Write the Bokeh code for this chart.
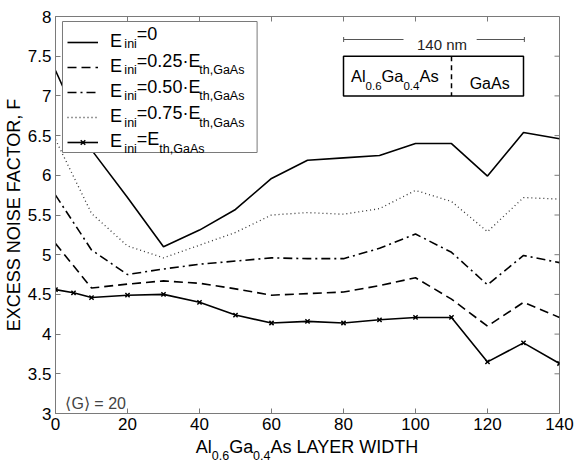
from bokeh.plotting import figure
from bokeh.layouts import column
from bokeh.models import (Range1d, FixedTicker, Legend, LegendItem,
                          Label, BoxAnnotation, Arrow, TeeHead)
from bokeh.core.properties import value
from bokeh.embed import file_html
from bokeh.resources import INLINE

# Al0.6Ga0.4As layer width (nm) and excess noise factor F for each injection energy
width_nm = [0, 10, 20, 30, 40, 50, 60, 70, 80, 90, 100, 110, 120, 130, 140]
F_e000 = [7.32, 6.32, 5.72, 5.10, 5.31, 5.57, 5.96, 6.19, 6.22, 6.25, 6.40, 6.40, 5.99, 6.54, 6.46]
F_e025 = [5.14, 4.58, 4.63, 4.67, 4.64, 4.57, 4.49, 4.51, 4.53, 4.61, 4.71, 4.44, 4.10, 4.40, 4.21]
F_e050 = [5.75, 5.06, 4.75, 4.82, 4.88, 4.92, 4.96, 4.95, 4.95, 5.08, 5.26, 5.03, 4.62, 4.99, 4.90]
F_e075 = [6.45, 5.52, 5.11, 4.96, 5.12, 5.28, 5.50, 5.53, 5.51, 5.58, 5.81, 5.67, 5.29, 5.72, 5.70]
width_eth = [0, 5, 10, 20, 30, 40, 50, 60, 70, 80, 90, 100, 110, 120, 130, 140]
F_eth = [4.56, 4.52, 4.46, 4.49, 4.50, 4.40, 4.24, 4.14, 4.16, 4.14, 4.18, 4.21, 4.21, 3.65, 3.89, 3.63]

x_ticks = [0, 20, 40, 60, 80, 100, 120, 140]
y_ticks = [3, 3.5, 4, 4.5, 5, 5.5, 6, 6.5, 7, 7.5, 8]
y_tick_labels = ["3", "3.5", "4", "4.5", "5", "5.5", "6", "6.5", "7", "7.5", "8"]

FONT = "Liberation Sans"
AX_GRAY = "#7a7a7a"
X0, X1, Y0, Y1 = 0, 140, 3, 8
FL, FT, FW, FH = 54, 16, 505, 397   # frame placement on the canvas
MAIN_H = 437                        # main figure height; the x title sits below it
TITLE_H = 464 - MAIN_H
MID = 0.3465                        # em-box centre above the alphabetic baseline

p = figure(width=576, height=MAIN_H, x_range=Range1d(X0, X1), y_range=Range1d(Y0, Y1),
           output_backend="svg", toolbar_location=None,
           min_border_left=FL, min_border_right=576 - FL - FW,
           min_border_top=FT, min_border_bottom=MAIN_H - FT - FH)
p.grid.visible = False
p.background_fill_color = "white"
p.border_fill_color = "white"
p.outline_line_color = AX_GRAY


def style_axis(ax, ticks):
    ax.ticker = FixedTicker(ticks=ticks)
    ax.axis_line_color = AX_GRAY
    ax.major_tick_line_color = AX_GRAY
    ax.major_tick_in = 5
    ax.major_tick_out = 0
    ax.minor_tick_line_color = None
    ax.major_label_text_font = FONT
    ax.major_label_text_color = "black"
    ax.major_label_text_font_size = "17px"


style_axis(p.xaxis[0], x_ticks)
p.xaxis[0].major_label_standoff = 4
style_axis(p.yaxis[0], y_ticks)
p.yaxis[0].major_label_standoff = 4
p.yaxis[0].major_label_overrides = {t: s for t, s in zip(y_ticks, y_tick_labels)}
p.yaxis[0].axis_label = "EXCESS NOISE FACTOR, F"
p.yaxis[0].axis_label_text_font = FONT
p.yaxis[0].axis_label_text_font_size = "18px"
p.yaxis[0].axis_label_text_font_style = "normal"
p.yaxis[0].axis_label_text_color = "black"
p.yaxis[0].axis_label_standoff = 1

# inward tick marks on the top and right edges of the box
p.ray(x=x_ticks, y=[Y1] * len(x_ticks), length=5, length_units="screen",
      angle=-90, angle_units="deg", line_color=AX_GRAY, line_width=1)
p.ray(x=[X1] * len(y_ticks), y=y_ticks, length=5, length_units="screen",
      angle=180, angle_units="deg", line_color=AX_GRAY, line_width=1)

# curves
r0 = p.line(width_nm, F_e000, line_color="black", line_width=1.6)
r1 = p.line(width_nm, F_e025, line_color="black", line_width=1.6, line_dash="9 5")
r2 = p.line(width_nm, F_e050, line_color="black", line_width=1.6, line_dash="9 4 2 4")
r3 = p.line(width_nm, F_e075, line_color="#333333", line_width=1.3, line_dash="1 3")
r4 = p.line(width_eth, F_eth, line_color="black", line_width=1.6)
r4m = p.scatter(width_eth, F_eth, marker="x", size=6, line_color="black", line_width=1.5)


def px_to_x(px):
    return X0 + (px - FL) * (X1 - X0) / FW


def py_to_y(py):
    return Y0 + (FT + FH - py) * (Y1 - Y0) / FH


# legend panel: white box drawn first, then a transparent legend with the samples
p.add_layout(BoxAnnotation(left=px_to_x(61), right=px_to_x(256),
                           top=py_to_y(21), bottom=py_to_y(152),
                           fill_color="white", fill_alpha=1.0,
                           line_color=AX_GRAY, line_width=1, line_alpha=1))
legend = Legend(
    items=[LegendItem(label=value("E"), renderers=[r]) for r in (r0, r1, r2, r3)]
    + [LegendItem(label=value("E"), renderers=[r4, r4m])],
    location=(12, 261), margin=0, padding=2, spacing=4,
    glyph_width=31, glyph_height=16, label_height=16, label_width=130,
    label_standoff=12, label_text_font=FONT, label_text_font_size="18px",
    label_text_color="black",
    border_line_color=None, background_fill_alpha=0.0,
)
p.add_layout(legend)

# Helvetica/Arial advance widths (per 1000 em) for the characters used in labels
ADV = {' ': 278, ',': 278, '.': 278, '=': 584, '\u00b7': 278,
       'A': 667, 'D': 722, 'E': 667, 'G': 778, 'H': 722, 'I': 278, 'L': 556,
       'R': 722, 'T': 611, 'W': 944, 'Y': 667,
       'a': 556, 'h': 556, 'i': 222, 'l': 222, 'n': 556, 's': 500, 't': 278}


def text_width(s, size):
    return sum(ADV.get(c, 556) for c in s) * size / 1000.0


def rich_text(fig, fx, fy, x_px, base_px, parts, color="black"):
    """Place a run of text pieces (text, font size px, baseline drop px).

    Each piece is anchored on its em-box centre so that its box is explicit.
    """
    x = x_px
    for txt, size, drop in parts:
        mid_px = base_px + drop - MID * size
        fig.add_layout(Label(x=fx(x), y=fy(mid_px), text=txt,
                             text_font=FONT, text_font_size=f"{size}px",
                             text_color=color, text_baseline="middle",
                             text_align="left"))
        x += text_width(txt, size)
    return x


# legend entries: the legend draws the leading "E", the rest follows it
M, S, SD = 18, 12.5, 7.4
legend_tails = [
    [("ini", S, SD), ("=0", M, 0)],
    [("ini", S, SD), ("=0.25\u00b7E", M, 0), ("th,GaAs", S, SD)],
    [("ini", S, SD), ("=0.50\u00b7E", M, 0), ("th,GaAs", S, SD)],
    [("ini", S, SD), ("=0.75\u00b7E", M, 0), ("th,GaAs", S, SD)],
    [("ini", S, SD), ("=E", M, 0), ("th,GaAs", S, SD)],
]
for i, row in enumerate(legend_tails):
    rich_text(p, px_to_x, py_to_y, 111 + text_width("E", M), 40.2 + 26.25 * i, row)

# gain note
p.add_layout(Label(x=px_to_x(64), y=py_to_y(403.3), text="\u27e8G\u27e9 = 20",
                   text_font=FONT, text_font_size="16px",
                   text_baseline="alphabetic", text_align="left"))

# structure sketch: 140 nm scale bar and the two-layer box
bar_y = py_to_y(39)
p.add_layout(Arrow(start=TeeHead(size=5, line_color="#555555", line_width=1), end=None,
                   x_start=px_to_x(342.7), y_start=bar_y, x_end=px_to_x(402.7), y_end=bar_y,
                   line_color="#555555", line_width=1))
p.add_layout(Arrow(start=None, end=TeeHead(size=5, line_color="#555555", line_width=1),
                   x_start=px_to_x(476), y_start=bar_y, x_end=px_to_x(523.8), y_end=bar_y,
                   line_color="#555555", line_width=1))
p.add_layout(Label(x=px_to_x(441.3), y=py_to_y(44.3), text="140 nm", text_font=FONT,
                   text_font_size="15px", text_baseline="alphabetic", text_align="center",
                   text_color="#222222"))
p.add_layout(BoxAnnotation(left=80, right=130, bottom=7.0, top=7.5,
                           fill_color=None, fill_alpha=0,
                           line_color="black", line_width=1.5, line_alpha=1))
p.add_layout(Arrow(start=None, end=None, x_start=110, y_start=7.5, x_end=110, y_end=7.0,
                   line_color="black", line_width=1.5, line_dash="5 4"))
rich_text(p, px_to_x, py_to_y, 350, 81.7,
          [("Al", 16.5, 0), ("0.6", 11.5, 7.5), ("Ga", 16.5, 0),
           ("0.4", 11.5, 7.5), ("As", 16.5, 0)])
rich_text(p, px_to_x, py_to_y, 469, 88.5, [("GaAs", 16, 0)])

# x-axis title strip (subscripted text), aligned with the main frame
t = figure(width=576, height=TITLE_H, x_range=p.x_range, y_range=Range1d(0, TITLE_H),
           output_backend="svg", toolbar_location=None,
           x_axis_location=None, y_axis_location=None,
           min_border_left=FL, min_border_right=576 - FL - FW,
           min_border_top=0, min_border_bottom=0)
t.grid.visible = False
t.outline_line_color = None
t.background_fill_color = "white"
t.border_fill_color = "white"

xlab = [("Al", 18, 0), ("0.6", 12.5, 6.5), ("Ga", 18, 0), ("0.4", 12.5, 6.5),
        ("As LAYER WIDTH", 18, 0)]
xlab_w = sum(text_width(s, z) for s, z, _ in xlab)
rich_text(t, px_to_x, lambda py: MAIN_H + TITLE_H - py,
          FL + FW / 2 - xlab_w / 2, 453.0, xlab)

layout = column(p, t, spacing=0)
open("out.html", "w").write(file_html(layout, INLINE))
